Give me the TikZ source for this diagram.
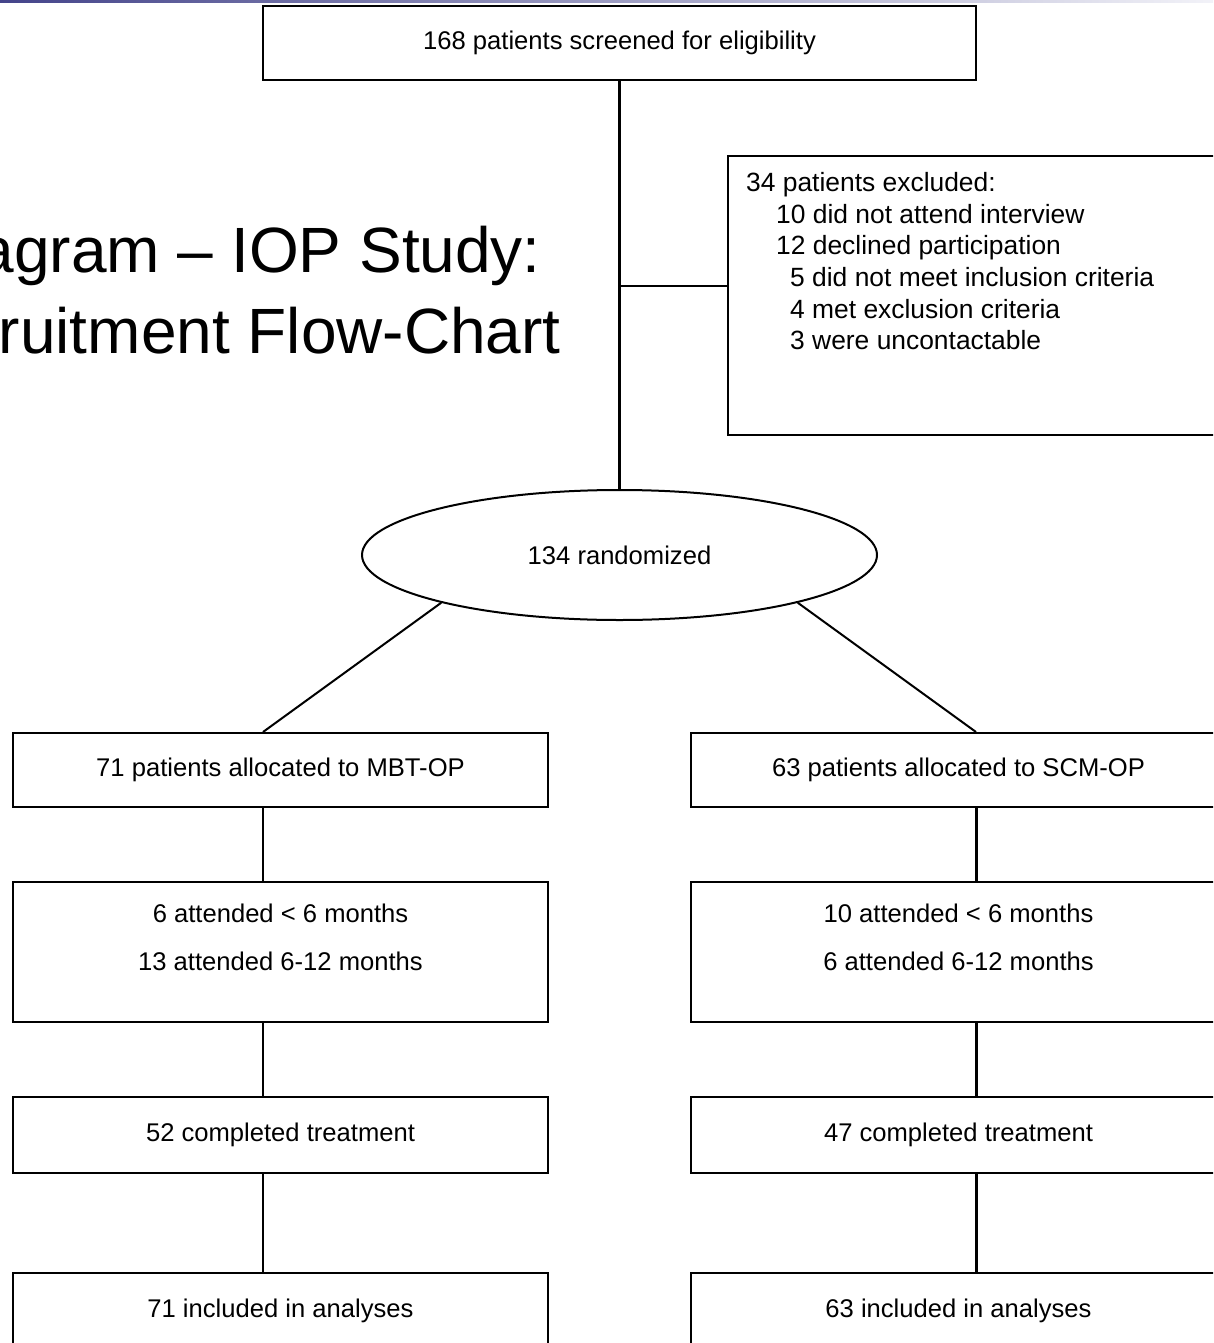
\documentclass[tikz,border=0pt]{standalone}
\usepackage{fontspec}
\setmainfont{Liberation Sans}
\usetikzlibrary{shapes.geometric, positioning}
\tikzset{>=stealth}
\definecolor{barleft}{RGB}{68,68,138}
\definecolor{barright}{RGB}{242,242,248}

\begin{document}
\begin{tikzpicture}[x=1pt, y=-1pt,
  txt/.style={font=\fontsize{25.6}{31.7}\selectfont},
  box/.style={draw, txt, line width=2pt, rectangle, inner sep=0pt, minimum width=535pt, minimum height=74pt},
  link/.style={line width=2pt},
  trunk/.style={line width=3pt}]
\useasboundingbox (0,0) rectangle (1213,1343);
\clip (0,0) rectangle (1213,1343);
\shade[left color=barleft, right color=barright] (0,0) rectangle (1213,3);
\node[anchor=base east, inner sep=0pt, font=\fontsize{64}{80}\selectfont] (title1) at (541,272) {agram – IOP Study:};
\node[anchor=base east, inner sep=0pt, font=\fontsize{64}{80}\selectfont] (title2) at (561,353) {ruitment Flow-Chart};
\node[box, minimum width=713pt] (screen) at (619.5,43) {168 patients screened for eligibility};
\node[box, minimum width=540pt, minimum height=279pt, anchor=north west] (excl) at (727,155) {};
\node[anchor=north west, inner sep=0pt, align=left, font=\fontsize{26.4}{31.7}\selectfont] (exclist) at (746,172) {34 patients excluded:\\
  \hspace*{30pt}10 did not attend interview\\
  \hspace*{30pt}12 declined participation\\
  \hspace*{44pt}5 did not meet inclusion criteria\\
  \hspace*{44pt}4 met exclusion criteria\\
  \hspace*{44pt}3 were uncontactable};
\node[ellipse, draw, txt, line width=2pt, inner sep=0pt, minimum width=515pt, minimum height=130pt] (rand) at (619.5,555) {134 randomized};
\node[box] (mbt) at (280.5,770) {71 patients allocated to MBT-OP};
\node[box] (scm) at (958.5,770) {63 patients allocated to SCM-OP};
\node[box, minimum height=140pt, align=center, text depth=30pt, font=\fontsize{25.6}{48}\selectfont] (att1) at (280.5,952) {6 attended < 6 months\\13 attended 6-12 months};
\node[box, minimum height=140pt, align=center, text depth=30pt, font=\fontsize{25.6}{48}\selectfont] (att2) at (958.5,952) {10 attended < 6 months\\6 attended 6-12 months};
\node[box, minimum height=76pt] (comp1) at (280.5,1135) {52 completed treatment};
\node[box, minimum height=76pt] (comp2) at (958.5,1135) {47 completed treatment};
\node[box, minimum height=76pt, anchor=north] (incl1) at (280.5,1272) {71 included in analyses};
\node[box, minimum height=76pt, anchor=north] (incl2) at (958.5,1272) {63 included in analyses};
\coordinate (lcol) at (263,0);
\coordinate (rcol) at (976,0);
\coordinate (split) at (619.5,286);
\draw[trunk] (screen.south) -- (rand.north);
\draw[link] (split) -- (split -| excl.west);
\draw[link] (rand.195) -- (mbt.north -| lcol);
\draw[link] (rand.-15) -- (scm.north -| rcol);
\foreach \a/\b in {mbt/att1, att1/comp1, comp1/incl1}
  \draw[link] (\a.south -| lcol) -- (\b.north -| lcol);
\foreach \a/\b in {scm/att2, att2/comp2, comp2/incl2}
  \draw[trunk] (\a.south -| rcol) -- (\b.north -| rcol);
\end{tikzpicture}
\end{document}
